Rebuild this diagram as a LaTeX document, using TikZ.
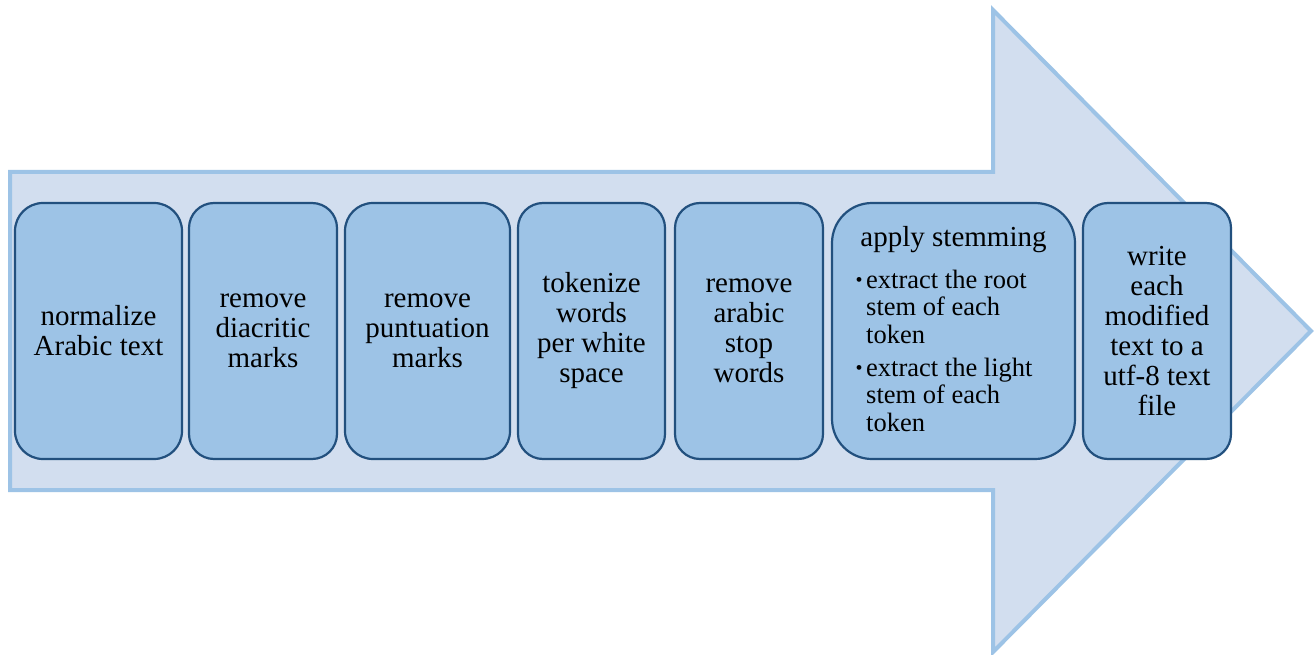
\documentclass[tikz,border=0pt]{standalone}
\usepackage{fontspec}
\setmainfont{Liberation Serif}
\definecolor{arrowfill}{HTML}{D2DEEF}
\definecolor{arrowline}{HTML}{9DC3E6}
\definecolor{boxfill}{HTML}{9DC3E6}
\definecolor{boxline}{HTML}{22507E}
\tikzset{
  stepbox/.style={draw=boxline, fill=boxfill, line width=2.2pt, inner sep=0pt,
    minimum height=256, align=center, font=\fontsize{29}{30}\selectfont},
  bullettext/.style={anchor=north west, align=left, inner sep=0pt,
    font=\fontsize{26.5}{27.3}\selectfont},
}
\begin{document}
\begin{tikzpicture}[x=1pt,y=-1pt]
\useasboundingbox (0,0) rectangle (1316,655);
\fill[white] (0,0) rectangle (1316,655);
% big arrow
\draw[draw=arrowline, fill=arrowfill, line width=4pt, line join=miter]
  (10,172) -- (993,172) -- (993,10) -- (1311,331) -- (993,652) -- (993,490) -- (10,490) -- cycle;
% steps
\node[stepbox, minimum width=167, rounded corners=28] (b1) at (98.5,331) {normalize\\Arabic text};
\node[stepbox, minimum width=148, rounded corners=25] (b2) at (263,331) {remove\\diacritic\\marks};
\node[stepbox, minimum width=165, rounded corners=28] (b3) at (427.5,331) {remove\\puntuation\\marks};
\node[stepbox, minimum width=147, rounded corners=25] (b4) at (591.5,331) {tokenize\\words\\per white\\space};
\node[stepbox, minimum width=148, rounded corners=25] (b5) at (749,331) {remove\\arabic\\stop\\words};
\node[stepbox, minimum width=243, rounded corners=40] (b6) at (953.5,331) {};
\node[stepbox, minimum width=148, rounded corners=25] (b7) at (1157,331) {write\\each\\modified\\text to a\\utf-8 text\\file};
% content of the stemming step
\node[font=\fontsize{29}{30}\selectfont, inner sep=0pt] (t6) at (953.5,240) {apply stemming};
\node[bullettext] (s1) at (866,270) {extract the root\\stem of each\\token};
\node[bullettext] (s2) at (866,358) {extract the light\\stem of each\\token};
\node[font=\fontsize{20}{20}\selectfont, inner sep=0pt] (d1) at (859,282) {•};
\node[font=\fontsize{20}{20}\selectfont, inner sep=0pt] (d2) at (859,370) {•};
\end{tikzpicture}
\end{document}
